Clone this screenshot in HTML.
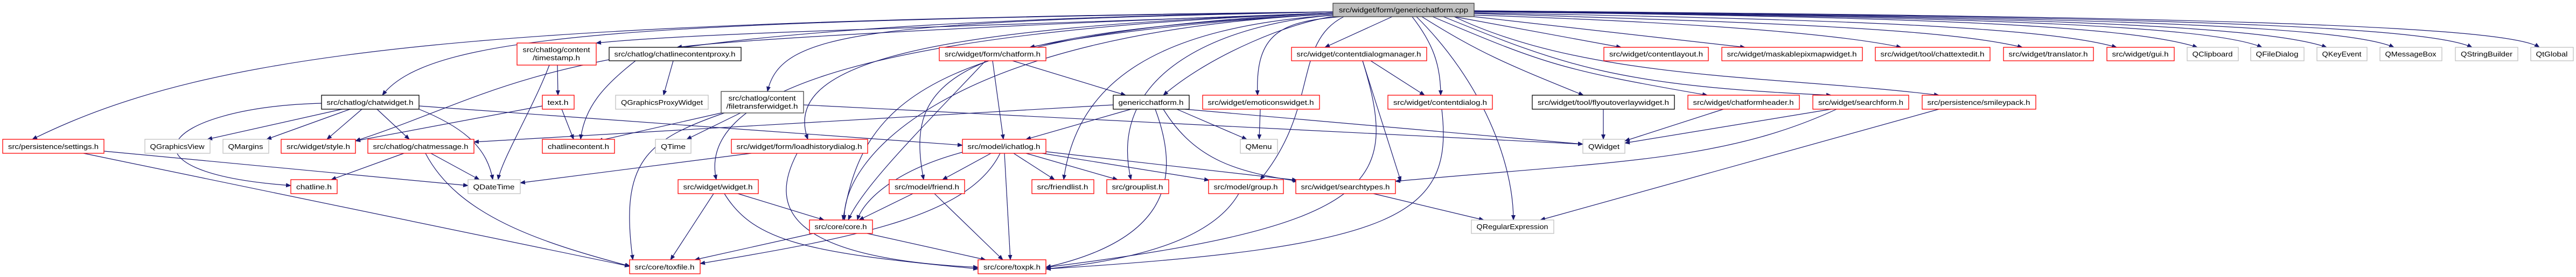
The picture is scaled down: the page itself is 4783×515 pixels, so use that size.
<!DOCTYPE html>
<html><head><meta charset="utf-8"><style>
html,body{margin:0;padding:0;background:#fff}
svg{display:block}
text{font-family:"Liberation Sans",sans-serif;font-size:13px;fill:#000}
.e{fill:none;stroke:#191970;stroke-width:1.2}
.r{fill:#fff;stroke:#ff0000;stroke-width:1.3}
.k{fill:#fff;stroke:#000;stroke-width:1.3}
.d{fill:#fff;stroke:#404040;stroke-width:1.3}
.g{fill:#fff;stroke:#bfbfbf;stroke-width:1.3}
</style></head><body>
<svg width="4783" height="515" viewBox="0 0 4783 515" xmlns="http://www.w3.org/2000/svg">
<defs><marker id="a" markerWidth="10" markerHeight="8" refX="9" refY="4" orient="auto" markerUnits="userSpaceOnUse"><path d="M0,0 L10,4 L0,8 z" fill="#191970"/></marker></defs>
<g class="e" marker-end="url(#a)">
<!-- from cpp -->
<path d="M2476,22 C900,40 400,90 60,259"/>
<path d="M2476,22 C1200,40 800,60 710,177"/>
<path d="M2478,24 C1800,50 1300,60 1107,80"/>
<path d="M2478,24 C2000,40 1400,70 1257,88"/>
<path d="M2478,22 C1000,45 1000,150 660,262"/>
<path d="M2478,22 C1600,40 1450,60 1425,170"/>
<path d="M2478,24 C1700,50 1450,120 1500,259"/>
<path d="M2478,24 C1500,60 1300,200 1330,334"/>
<path d="M2478,24 C1700,60 1600,200 1565,409"/>
<path d="M2478,26 C1750,60 1560,300 1568,409"/>
<path d="M2478,26 C1750,60 1680,150 1715,334"/>
<path d="M2478,26 C2200,40 2000,70 1912,88"/>
<path d="M2478,28 C2150,50 2000,150 1975,334"/>
<path d="M2480,28 C2300,40 2050,120 2100,334"/>
<path d="M2480,30 C2400,40 2250,100 2160,177"/>
<path d="M2490,31 C2380,40 2330,60 2335,177"/>
<path d="M2495,31 C2400,80 2450,200 2340,334"/>
<path d="M2585,31 L2460,88"/>
<path d="M2622,31 C2660,80 2675,120 2675,177"/>
<path d="M2630,31 C2750,150 2810,300 2810,409"/>
<path d="M2640,31 C2750,100 2800,120 2940,177"/>
<path d="M2660,31 C2870,120 2900,130 3170,177"/>
<path d="M2680,31 C2900,120 3000,160 3400,177"/>
<path d="M2700,31 C2950,150 3300,140 3600,177"/>
<path d="M2700,31 L3010,88"/>
<path d="M2737,31 L3240,88"/>
<path d="M2737,28 C3100,40 3400,60 3530,88"/>
<path d="M2737,25 C3200,40 3600,50 3755,88"/>
<path d="M2737,24 C3400,35 3800,50 3930,88"/>
<path d="M2737,22 C3500,30 3950,45 4080,88"/>
<path d="M2737,22 C3600,30 4100,45 4200,88"/>
<path d="M2737,21 C3700,30 4200,45 4320,88"/>
<path d="M2737,21 C3800,30 4350,45 4445,88"/>
<path d="M2737,20 C3900,30 4500,45 4590,88"/>
<path d="M2737,20 C4000,30 4650,45 4715,88"/>
<!-- secondary -->
<path d="M1035,121 L1036,177"/>
<path d="M1020,121 C990,200 930,300 925,334"/>
<path d="M1007,197 L660,262"/>
<path d="M1043,203 L1065,259"/>
<path d="M1250,113 L1232,177"/>
<path d="M1180,113 C1120,160 1085,200 1078,259"/>
<path d="M1339,210 L1110,262"/>
<path d="M1375,210 L1275,259"/>
<path d="M1345,210 C1200,260 1150,300 1175,483"/>
<path d="M1492,195 L2939,268"/>
<path d="M635,203 L385,259"/>
<path d="M650,203 L495,259"/>
<path d="M672,203 L607,259"/>
<path d="M700,203 L760,259"/>
<path d="M778,203 C870,240 905,280 915,334"/>
<path d="M597,192 C300,200 200,320 540,345"/>
<path d="M778,197 L1787,270"/>
<path d="M193,281 L869,345"/>
<path d="M155,285 L1169,495"/>
<path d="M750,285 L615,334"/>
<path d="M800,285 L890,334"/>
<path d="M790,285 C850,400 1000,450 1170,495"/>
<path d="M1395,285 L966,340"/>
<path d="M1480,285 C1430,380 1450,480 1816,497"/>
<path d="M2067,195 L880,264"/>
<path d="M2100,203 L1905,259"/>
<path d="M2185,203 L2315,259"/>
<path d="M2200,203 L2939,268"/>
<path d="M2145,203 C2200,350 2150,450 1942,497"/>
<path d="M2160,203 C2220,300 2300,320 2410,337"/>
<path d="M1880,113 L2090,177"/>
<path d="M1843,113 L1863,259"/>
<path d="M1830,113 C1700,250 1600,350 1575,409"/>
<path d="M1787,283 C1650,320 1600,380 1592,409"/>
<path d="M1840,285 L1750,334"/>
<path d="M1882,285 L1958,334"/>
<path d="M1905,285 L2075,334"/>
<path d="M1935,285 L2245,335"/>
<path d="M1942,282 L2408,335"/>
<path d="M1865,285 L1876,483"/>
<path d="M1857,285 C1800,400 1600,440 1300,490"/>
<path d="M2340,203 L2338,259"/>
<path d="M1370,360 L1530,409"/>
<path d="M1325,360 L1245,483"/>
<path d="M1345,360 C1400,450 1500,470 1816,500"/>
<path d="M1695,360 L1595,409"/>
<path d="M1735,360 L1862,483"/>
<path d="M1510,434 L1290,483"/>
<path d="M1610,434 L1830,483"/>
<path d="M2300,360 C2260,430 2150,480 1942,500"/>
<path d="M2545,113 L2645,177"/>
<path d="M2530,113 L2601,337"/>
<path d="M2677,203 C2700,400 2600,460 1942,500"/>
<path d="M2530,113 C2600,340 2560,420 1942,497"/>
<path d="M2977,203 L2977,259"/>
<path d="M3200,203 L3017,262"/>
<path d="M3400,203 L3017,266"/>
<path d="M3410,203 C3200,300 3000,300 2591,337"/>
<path d="M3600,203 L2860,409"/>
<path d="M2550,360 L2755,409"/>
</g>
<g>
<rect x="2475" y="6" width="262" height="25" fill="#bfbfbf" stroke="#404040" stroke-width="1.3"/><text x="2606" y="23" text-anchor="middle" textLength="240" lengthAdjust="spacingAndGlyphs">src/widget/form/genericchatform.cpp</text>

<rect class="r" x="960" y="80" width="147" height="41"/><text x="1033" y="97" text-anchor="middle" textLength="125" lengthAdjust="spacingAndGlyphs">src/chatlog/content</text><text x="1033" y="112" text-anchor="middle" textLength="88" lengthAdjust="spacingAndGlyphs">/timestamp.h</text>
<rect class="k" x="1131" y="88" width="245" height="25"/><text x="1253" y="105" text-anchor="middle" textLength="225" lengthAdjust="spacingAndGlyphs">src/chatlog/chatlinecontentproxy.h</text>
<rect class="r" x="1744" y="88" width="198" height="25"/><text x="1843" y="105" text-anchor="middle" textLength="178" lengthAdjust="spacingAndGlyphs">src/widget/form/chatform.h</text>
<rect class="r" x="2398" y="88" width="251" height="25"/><text x="2523" y="105" text-anchor="middle" textLength="231" lengthAdjust="spacingAndGlyphs">src/widget/contentdialogmanager.h</text>
<rect class="r" x="2978" y="88" width="194" height="25"/><text x="3075" y="105" text-anchor="middle" textLength="174" lengthAdjust="spacingAndGlyphs">src/widget/contentlayout.h</text>
<rect class="r" x="3197" y="88" width="261" height="25"/><text x="3327" y="105" text-anchor="middle" textLength="241" lengthAdjust="spacingAndGlyphs">src/widget/maskablepixmapwidget.h</text>
<rect class="r" x="3482" y="88" width="213" height="25"/><text x="3588" y="105" text-anchor="middle" textLength="193" lengthAdjust="spacingAndGlyphs">src/widget/tool/chattextedit.h</text>
<rect class="r" x="3720" y="88" width="167" height="25"/><text x="3803" y="105" text-anchor="middle" textLength="147" lengthAdjust="spacingAndGlyphs">src/widget/translator.h</text>
<rect class="r" x="3912" y="88" width="125" height="25"/><text x="3974" y="105" text-anchor="middle" textLength="105" lengthAdjust="spacingAndGlyphs">src/widget/gui.h</text>
<rect class="g" x="4061" y="88" width="95" height="25"/><text x="4108" y="105" text-anchor="middle" textLength="75" lengthAdjust="spacingAndGlyphs">QClipboard</text>
<rect class="g" x="4179" y="88" width="99" height="25"/><text x="4228" y="105" text-anchor="middle" textLength="79" lengthAdjust="spacingAndGlyphs">QFileDialog</text>
<rect class="g" x="4302" y="88" width="93" height="25"/><text x="4348" y="105" text-anchor="middle" textLength="73" lengthAdjust="spacingAndGlyphs">QKeyEvent</text>
<rect class="g" x="4419" y="88" width="115" height="25"/><text x="4476" y="105" text-anchor="middle" textLength="95" lengthAdjust="spacingAndGlyphs">QMessageBox</text>
<rect class="g" x="4559" y="88" width="116" height="25"/><text x="4617" y="105" text-anchor="middle" textLength="96" lengthAdjust="spacingAndGlyphs">QStringBuilder</text>
<rect class="g" x="4699" y="88" width="79" height="25"/><text x="4738" y="105" text-anchor="middle" textLength="59" lengthAdjust="spacingAndGlyphs">QtGlobal</text>

<rect class="k" x="597" y="177" width="181" height="26"/><text x="687" y="195" text-anchor="middle" textLength="161" lengthAdjust="spacingAndGlyphs">src/chatlog/chatwidget.h</text>
<rect class="r" x="1007" y="177" width="59" height="26"/><text x="1036" y="195" text-anchor="middle" textLength="39" lengthAdjust="spacingAndGlyphs">text.h</text>
<rect class="g" x="1143" y="177" width="172" height="26"/><text x="1229" y="195" text-anchor="middle" textLength="152" lengthAdjust="spacingAndGlyphs">QGraphicsProxyWidget</text>
<rect class="d" x="1339" y="170" width="153" height="40"/><text x="1415" y="187" text-anchor="middle" textLength="125" lengthAdjust="spacingAndGlyphs">src/chatlog/content</text><text x="1415" y="202" text-anchor="middle" textLength="133" lengthAdjust="spacingAndGlyphs">/filetransferwidget.h</text>
<rect class="k" x="2067" y="177" width="141" height="26"/><text x="2137" y="195" text-anchor="middle" textLength="121" lengthAdjust="spacingAndGlyphs">genericchatform.h</text>
<rect class="r" x="2233" y="177" width="217" height="26"/><text x="2341" y="195" text-anchor="middle" textLength="197" lengthAdjust="spacingAndGlyphs">src/widget/emoticonswidget.h</text>
<rect class="r" x="2577" y="177" width="194" height="26"/><text x="2674" y="195" text-anchor="middle" textLength="174" lengthAdjust="spacingAndGlyphs">src/widget/contentdialog.h</text>
<rect class="k" x="2845" y="177" width="264" height="26"/><text x="2977" y="195" text-anchor="middle" textLength="244" lengthAdjust="spacingAndGlyphs">src/widget/tool/flyoutoverlaywidget.h</text>
<rect class="r" x="3134" y="177" width="207" height="26"/><text x="3237" y="195" text-anchor="middle" textLength="187" lengthAdjust="spacingAndGlyphs">src/widget/chatformheader.h</text>
<rect class="r" x="3366" y="177" width="178" height="26"/><text x="3455" y="195" text-anchor="middle" textLength="158" lengthAdjust="spacingAndGlyphs">src/widget/searchform.h</text>
<rect class="r" x="3569" y="177" width="211" height="26"/><text x="3674" y="195" text-anchor="middle" textLength="191" lengthAdjust="spacingAndGlyphs">src/persistence/smileypack.h</text>

<rect class="r" x="5" y="259" width="188" height="26"/><text x="99" y="277" text-anchor="middle" textLength="168" lengthAdjust="spacingAndGlyphs">src/persistence/settings.h</text>
<rect class="g" x="269" y="259" width="121" height="26"/><text x="329" y="277" text-anchor="middle" textLength="101" lengthAdjust="spacingAndGlyphs">QGraphicsView</text>
<rect class="g" x="414" y="259" width="85" height="26"/><text x="456" y="277" text-anchor="middle" textLength="65" lengthAdjust="spacingAndGlyphs">QMargins</text>
<rect class="r" x="522" y="259" width="138" height="26"/><text x="591" y="277" text-anchor="middle" textLength="118" lengthAdjust="spacingAndGlyphs">src/widget/style.h</text>
<rect class="r" x="683" y="259" width="197" height="26"/><text x="781" y="277" text-anchor="middle" textLength="177" lengthAdjust="spacingAndGlyphs">src/chatlog/chatmessage.h</text>
<rect class="r" x="1007" y="259" width="134" height="26"/><text x="1074" y="277" text-anchor="middle" textLength="114" lengthAdjust="spacingAndGlyphs">chatlinecontent.h</text>
<rect class="g" x="1217" y="259" width="66" height="26"/><text x="1250" y="277" text-anchor="middle" textLength="46" lengthAdjust="spacingAndGlyphs">QTime</text>
<rect class="r" x="1358" y="259" width="253" height="26"/><text x="1484" y="277" text-anchor="middle" textLength="233" lengthAdjust="spacingAndGlyphs">src/widget/form/loadhistorydialog.h</text>
<rect class="r" x="1787" y="259" width="155" height="26"/><text x="1864" y="277" text-anchor="middle" textLength="135" lengthAdjust="spacingAndGlyphs">src/model/ichatlog.h</text>
<rect class="g" x="2303" y="259" width="69" height="26"/><text x="2337" y="277" text-anchor="middle" textLength="49" lengthAdjust="spacingAndGlyphs">QMenu</text>
<rect class="g" x="2939" y="259" width="78" height="26"/><text x="2978" y="277" text-anchor="middle" textLength="58" lengthAdjust="spacingAndGlyphs">QWidget</text>

<rect class="r" x="540" y="334" width="86" height="26"/><text x="583" y="352" text-anchor="middle" textLength="66" lengthAdjust="spacingAndGlyphs">chatline.h</text>
<rect class="g" x="869" y="334" width="97" height="26"/><text x="917" y="352" text-anchor="middle" textLength="77" lengthAdjust="spacingAndGlyphs">QDateTime</text>
<rect class="r" x="1259" y="334" width="149" height="26"/><text x="1333" y="352" text-anchor="middle" textLength="129" lengthAdjust="spacingAndGlyphs">src/widget/widget.h</text>
<rect class="r" x="1651" y="334" width="140" height="26"/><text x="1721" y="352" text-anchor="middle" textLength="120" lengthAdjust="spacingAndGlyphs">src/model/friend.h</text>
<rect class="r" x="1916" y="334" width="115" height="26"/><text x="1973" y="352" text-anchor="middle" textLength="95" lengthAdjust="spacingAndGlyphs">src/friendlist.h</text>
<rect class="r" x="2055" y="334" width="115" height="26"/><text x="2112" y="352" text-anchor="middle" textLength="95" lengthAdjust="spacingAndGlyphs">src/grouplist.h</text>
<rect class="r" x="2244" y="334" width="139" height="26"/><text x="2313" y="352" text-anchor="middle" textLength="119" lengthAdjust="spacingAndGlyphs">src/model/group.h</text>
<rect class="r" x="2406" y="334" width="185" height="26"/><text x="2498" y="352" text-anchor="middle" textLength="165" lengthAdjust="spacingAndGlyphs">src/widget/searchtypes.h</text>

<rect class="r" x="1503" y="409" width="117" height="25"/><text x="1561" y="426" text-anchor="middle" textLength="97" lengthAdjust="spacingAndGlyphs">src/core/core.h</text>
<rect class="g" x="2732" y="409" width="153" height="25"/><text x="2808" y="426" text-anchor="middle" textLength="133" lengthAdjust="spacingAndGlyphs">QRegularExpression</text>

<rect class="r" x="1169" y="483" width="131" height="26"/><text x="1234" y="501" text-anchor="middle" textLength="111" lengthAdjust="spacingAndGlyphs">src/core/toxfile.h</text>
<rect class="r" x="1816" y="483" width="126" height="26"/><text x="1879" y="501" text-anchor="middle" textLength="106" lengthAdjust="spacingAndGlyphs">src/core/toxpk.h</text>
</g>
</svg>
</body></html>
